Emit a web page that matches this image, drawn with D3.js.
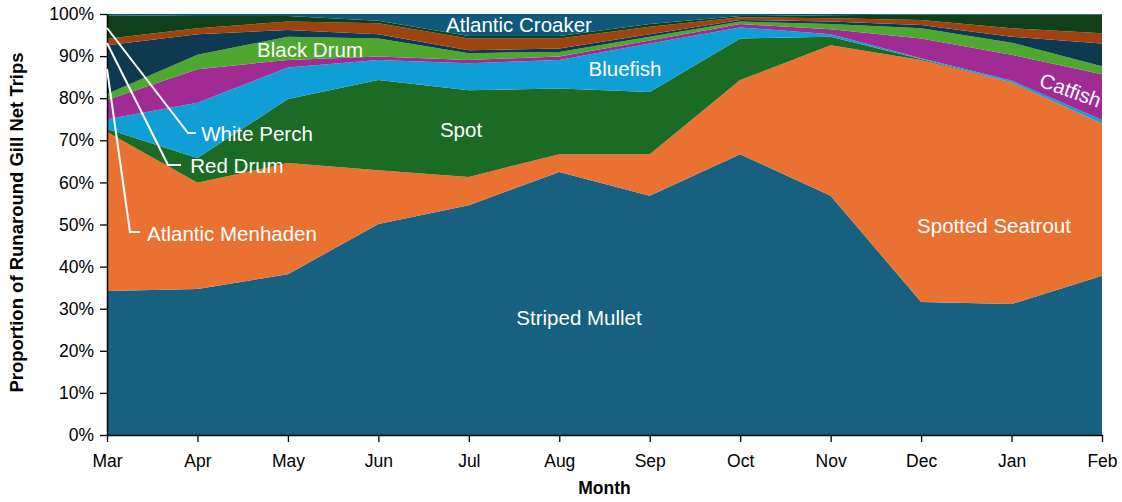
<!DOCTYPE html>
<html><head><meta charset="utf-8">
<script src="https://cdn.jsdelivr.net/npm/d3@7"></script>
<style>
body{margin:0;background:#fff;}
text{font-family:"Liberation Sans",Arial,sans-serif;}
</style></head>
<body><svg id="c" width="1122" height="502"></svg>
<script>
const months = ["Mar","Apr","May","Jun","Jul","Aug","Sep","Oct","Nov","Dec","Jan","Feb"];
const seriesNames = ["Striped Mullet","Spotted Seatrout","Spot","Bluefish","Catfish","Black Drum","Atlantic Menhaden","Red Drum","White Perch","Atlantic Croaker"];
const stripedMullet   = [34.2,34.7,38.2,50.1,54.6,62.5,56.8,66.7,56.8,31.6,31.1,37.8];
const spottedSeatrout = [37.8,25.2,26.4,12.8, 6.7, 4.2, 9.9,17.6,35.8,57.5,52.6,36.2];
const spot            = [ 0.7, 5.9,15.2,21.4,20.6,15.6,14.8, 9.9, 2.0, 0.2, 0.1, 0.0];
const bluefish        = [ 2.3,13.1, 7.5, 4.8, 6.4, 6.8,11.5, 2.6, 0.6, 0.2, 0.4, 0.8];
const catfish         = [ 4.6, 8.0, 1.8, 0.8, 0.8, 0.8, 0.7, 0.8, 1.2, 4.7, 6.1,10.9];
const blackDrum       = [ 1.4, 3.4, 5.5, 4.3, 1.6, 1.1, 0.9, 0.6, 1.2, 2.4, 2.9, 1.9];
const atlanticMenhaden= [11.6, 4.9, 1.6, 1.0, 0.7, 0.8, 0.6, 0.4, 0.6, 0.8, 1.4, 5.4];
const redDrum         = [ 1.5, 1.4, 2.0, 2.6, 2.8, 2.4, 1.8, 0.6, 0.8, 1.2, 2.0, 2.4];
const whitePerch      = [ 5.6, 2.9, 1.3, 0.6, 0.6, 0.6, 0.6, 0.3, 0.7, 1.3, 3.2, 4.4];
const atlanticCroaker = [ 0.3, 0.5, 0.5, 1.6, 5.2, 5.2, 2.4, 0.5, 0.3, 0.1, 0.2, 0.2];
const yTicks = [0,10,20,30,40,50,60,70,80,90,100];
const colors = ["#17607f","#e97132","#1b6b25","#0f9ed5","#a02b93","#4ea72e","#0e3a51","#9e4210","#113f1a","#0f5a7b"];

const allSeries = [stripedMullet,spottedSeatrout,spot,bluefish,catfish,blackDrum,atlanticMenhaden,redDrum,whitePerch,atlanticCroaker];
const rows = months.map((m,i)=>{const r={month:m}; seriesNames.forEach((s,j)=>r[s]=allSeries[j][i]); return r;});
rows.forEach(r=>{const t=d3.sum(seriesNames,s=>r[s]); seriesNames.forEach(s=>r[s]=r[s]/t*100);});

const svg = d3.select("#c");
const L=107,R=1102,T=14,B=435;
const x = d3.scalePoint().domain(months).range([L,R]);
const y = d3.scaleLinear().domain([0,100]).range([B,T]);
const stack = d3.stack().keys(seriesNames)(rows);
const area = d3.area().x(d=>x(d.data.month)).y0(d=>y(d[0])).y1(d=>y(d[1]));
svg.append("g").selectAll("path").data(stack).join("path")
  .attr("d",area).attr("fill",(d,i)=>colors[i]);

const ya = svg.append("g").attr("transform",`translate(${L},0)`)
  .call(d3.axisLeft(y).tickValues(yTicks).tickFormat(d=>d+"%").tickSize(7).tickSizeOuter(0));
ya.select(".domain").attr("stroke","#000").attr("stroke-width",1.5);
ya.selectAll(".tick line").attr("stroke","#000").attr("stroke-width",1.3);
ya.selectAll("text").attr("font-size",17.5).attr("fill","#000").attr("x",-13).attr("font-family","Liberation Sans, Arial, sans-serif");
const xa = svg.append("g").attr("transform",`translate(0,${B})`)
  .call(d3.axisBottom(x).tickSize(7).tickSizeOuter(0));
xa.select(".domain").attr("stroke","#000").attr("stroke-width",1.5);
xa.selectAll(".tick line").attr("stroke","#000").attr("stroke-width",1.3);
xa.selectAll("text").attr("font-size",17.5).attr("fill","#000").attr("dy","1.25em").attr("font-family","Liberation Sans, Arial, sans-serif");

svg.append("text").attr("x",(L+R)/2).attr("y",494).attr("text-anchor","middle")
  .attr("font-size",17.5).attr("font-weight","bold").text("Month");
svg.append("text").attr("transform",`translate(23,${(T+B)/2 - 2}) rotate(-90)`).attr("text-anchor","middle")
  .attr("font-size",18.5).attr("font-weight","bold").text("Proportion of Runaround Gill Net Trips");

const lines = [
  [[107,28],[188,133],[196,133]],
  [[107,43],[168,165],[181,165]],
  [[107,69],[130,232],[140,232]]
];
svg.append("g").selectAll("path").data(lines).join("path")
  .attr("d",d=>d3.line()(d)).attr("fill","none").attr("stroke","#fff").attr("stroke-width",2);

const labels = [
  ["Atlantic Croaker",519,32],["Black Drum",310,57],["Bluefish",625,76],
  ["White Perch",257,141],["Spot",461,137],["Red Drum",237,173],
  ["Atlantic Menhaden",232,241],["Spotted Seatrout",994,233],["Striped Mullet",579,325]
];
svg.append("g").selectAll("text").data(labels).join("text")
  .attr("x",d=>d[1]).attr("y",d=>d[2]).attr("text-anchor","middle")
  .attr("font-size",20.5).attr("fill","#fff").text(d=>d[0]);
svg.append("text").attr("transform","translate(1068,97) rotate(20)").attr("text-anchor","middle")
  .attr("font-size",20.5).attr("fill","#fff").text("Catfish");
</script></body></html>
